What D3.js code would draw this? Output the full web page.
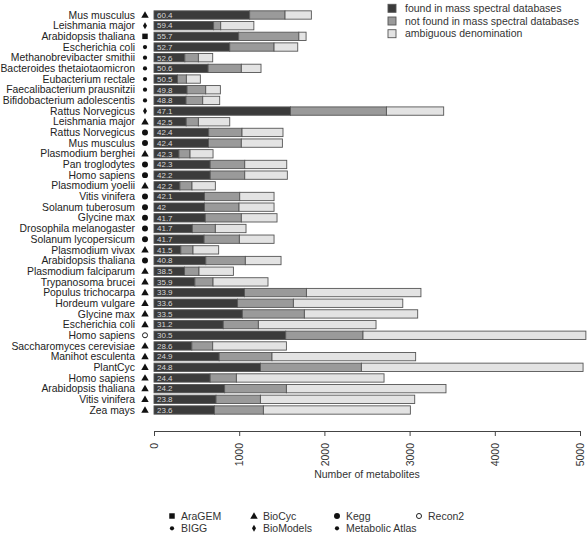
<!DOCTYPE html>
<html>
<head>
<meta charset="utf-8">
<script src="https://cdn.jsdelivr.net/npm/d3@7"></script>
<style>
  html, body { margin: 0; padding: 0; background: #fff; }
  svg { display: block; font-family: "Liberation Sans", Arial, Helvetica, sans-serif; }
</style>
</head>
<body>
<svg id="chart" width="587" height="534"></svg>
<script>
const organisms = ["Mus musculus","Leishmania major","Arabidopsis thaliana","Escherichia coli","Methanobrevibacter smithii","Bacteroides thetaiotaomicron","Eubacterium rectale","Faecalibacterium prausnitzii","Bifidobacterium adolescentis","Rattus Norvegicus","Leishmania major","Rattus Norvegicus","Mus musculus","Plasmodium berghei","Pan troglodytes","Homo sapiens","Plasmodium yoelii","Vitis vinifera","Solanum tuberosum","Glycine max","Drosophila melanogaster","Solanum lycopersicum","Plasmodium vivax","Arabidopsis thaliana","Plasmodium falciparum","Trypanosoma brucei","Populus trichocarpa","Hordeum vulgare","Glycine max","Escherichia coli","Homo sapiens","Saccharomyces cerevisiae","Manihot esculenta","PlantCyc","Homo sapiens","Arabidopsis thaliana","Vitis vinifera","Zea mays"];
const databases = ["BioCyc","BioModels","AraGEM","BIGG","Metabolic Atlas","Metabolic Atlas","Metabolic Atlas","Metabolic Atlas","Metabolic Atlas","BioModels","BioCyc","Kegg","Kegg","BioCyc","Kegg","Kegg","BioCyc","Kegg","Kegg","Kegg","Kegg","Kegg","BioCyc","Kegg","BioCyc","BioCyc","BioCyc","BioCyc","BioCyc","BioCyc","Recon2","BioCyc","BioCyc","BioCyc","BioCyc","BioCyc","BioCyc","BioCyc"];
const found =     [1123,700,994,889,362,635,275,388,376,1602,378,642,639,293,659,660,304,593,592,602,450,588,315,608,359,480,1062,981,1037,813,1546,444,765,1249,659,829,728,710];
const notFound =  [415,83,706,520,159,390,105,219,196,1126,143,391,386,130,406,405,142,413,406,423,270,414,143,464,169,213,727,655,728,412,907,245,620,1185,308,725,521,574];
const ambiguous = [309,389,85,278,168,231,164,172,199,672,368,481,482,270,493,500,274,403,411,419,360,407,301,419,404,645,1344,1284,1330,1381,2616,865,1686,2602,1733,1873,1811,1725];
const percentLabels = ["60.4","59.4","55.7","52.7","52.6","50.6","50.5","49.8","48.8","47.1","42.5","42.4","42.4","42.3","42.3","42.2","42.2","42.1","42","41.7","41.7","41.7","41.5","40.8","38.5","35.9","33.9","33.6","33.5","31.2","30.5","28.6","24.9","24.8","24.4","24.2","23.8","23.6"];
const seriesNames = ["found in mass spectral databases","not found in mass spectral databases","ambiguous denomination"];
const xTicks = [0,1000,2000,3000,4000,5000];
const dbLegend = ["AraGEM","BIGG","BioCyc","BioModels","Kegg","Metabolic Atlas","Recon2"];

const colors = ["#3b3b3b","#9a9a9a","#e3e3e3"];
const svg = d3.select("#chart");

const rows = organisms.map((o,i)=>({i, name:o, db:databases[i], vals:[found[i],notFound[i],ambiguous[i]], pct:percentLabels[i]}));

const x = d3.scaleLinear().domain([0,5000]).range([154,580]);
const y = d3.scaleBand().domain(d3.range(organisms.length)).range([9.66, 415.34]).paddingInner(0.22).paddingOuter(0.11);

const symDefs = {
  "AraGEM":         {type: d3.symbolSquare,   size: 30, fill:"#111", stroke:"none"},
  "BIGG":           {type: d3.symbolCircle,   size: 14, fill:"#111", stroke:"none"},
  "BioCyc":         {type: d3.symbolTriangle, size: 24, fill:"#111", stroke:"none"},
  "BioModels":      {type: d3.symbolDiamond,  size: 14, fill:"#111", stroke:"none"},
  "Kegg":           {type: d3.symbolCircle,   size: 28, fill:"#111", stroke:"none"},
  "Metabolic Atlas":{type: d3.symbolCircle,   size: 14, fill:"#111", stroke:"none"},
  "Recon2":         {type: d3.symbolCircle,   size: 20, fill:"none", stroke:"#222"}
};
function drawSym(g, db, cx, cy){
  const s = symDefs[db];
  g.append("path").attr("d", d3.symbol().type(s.type).size(s.size)())
    .attr("transform", `translate(${cx},${cy})`)
    .attr("fill", s.fill).attr("stroke", s.stroke).attr("stroke-width", 1);
}

const barG = svg.append("g");
rows.forEach(r=>{
  let acc = 0;
  r.vals.forEach((v,k)=>{
    barG.append("rect")
      .attr("x", x(acc)).attr("y", y(r.i))
      .attr("width", x(acc+v)-x(acc)).attr("height", y.bandwidth())
      .attr("fill", colors[k]).attr("stroke", "#555").attr("stroke-width", 0.9);
    acc += v;
  });
  barG.append("text").attr("x", x(0)+3).attr("y", y(r.i)+y.bandwidth()/2)
    .attr("dy","0.35em").attr("font-size","8px").attr("fill","#d8d8d8").text(r.pct);
  svg.append("text").attr("x",135).attr("y", y(r.i)+y.bandwidth()/2)
    .attr("dy","0.35em").attr("text-anchor","end").attr("font-size","10.4px").attr("fill","#222").text(r.name);
  drawSym(svg, r.db, 145, y(r.i)+y.bandwidth()/2 + (r.db==="BioCyc"?0.5:0));
});

const axisY = 431;
const axisG = svg.append("g").attr("transform",`translate(0,${axisY})`)
  .call(d3.axisBottom(x).tickValues(xTicks).tickSize(5).tickSizeOuter(0).tickFormat(d3.format("d")));
axisG.select(".domain").attr("stroke","#444");
axisG.selectAll(".tick line").attr("stroke","#444");
axisG.selectAll(".tick text")
  .attr("transform","translate(0,12) rotate(-90)")
  .attr("text-anchor","end").attr("x",0).attr("y",0).attr("dy","0.35em")
  .attr("font-size","10.5px").attr("fill","#333")
  .style("font-family","'Liberation Sans', Arial, sans-serif");
svg.append("text").attr("x",(x(0)+x(5000))/2).attr("y",478).attr("text-anchor","middle")
  .attr("font-size","10.5px").attr("fill","#333").text("Number of metabolites");

seriesNames.forEach((n,k)=>{
  const cy = 8.3 + k*12.7;
  svg.append("rect").attr("x",388).attr("y",cy-4).attr("width",8).attr("height",8)
    .attr("fill",colors[k]).attr("stroke","#555").attr("stroke-width",0.9);
  svg.append("text").attr("x",405).attr("y",cy).attr("dy","0.35em")
    .attr("font-size","10.5px").attr("fill","#333").text(n);
});

const colX = [172, 254, 337, 419];
dbLegend.forEach((n,k)=>{
  const col = Math.floor(k/2), row = k%2;
  const cy = 516 + row*12.3;
  drawSym(svg, n, colX[col], cy + (n==="BioCyc"?0.5:0));
  svg.append("text").attr("x",colX[col]+9).attr("y",cy).attr("dy","0.35em")
    .attr("font-size","10.5px").attr("fill","#333").text(n);
});
</script>
</body>
</html>
